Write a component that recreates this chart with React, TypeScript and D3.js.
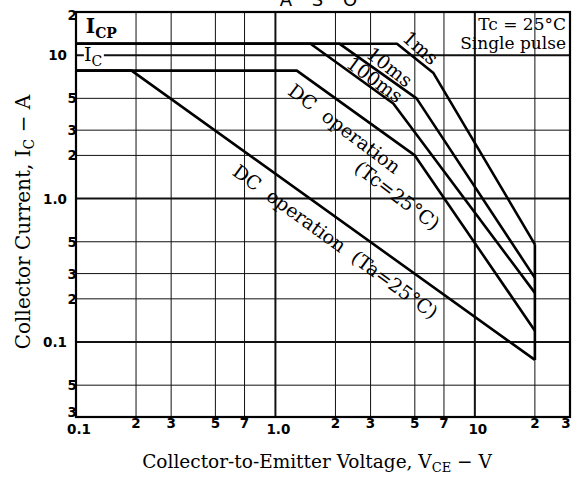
import React from 'react';
import * as d3 from 'd3';

// Safe operating area (A S O), log-log
const W = 573;
const H = 478;
const left = 76, right = 570, top = 12, bottom = 417;

const xTicks = [0.1, 0.2, 0.3, 0.5, 0.7, 1, 2, 3, 5, 7, 10, 20, 30];
const xTickLabels = ['0.1', '2', '3', '5', '7', '1.0', '2', '3', '5', '7', '10', '2', '3'];
const yTicks = [0.03, 0.05, 0.1, 0.2, 0.3, 0.5, 1, 2, 3, 5, 10, 20];
const yTickLabels = ['3', '5', '0.1', '2', '3', '5', '1.0', '2', '3', '5', '10', '2'];
const decades = [0.1, 1, 10];

// [V_CE (V), I_C (A)]
const pulse1ms: [number, number][] = [[0.1, 12], [4.07, 12], [6.2, 7.5], [20, 0.48]];
const pulse10ms: [number, number][] = [[0.1, 12], [2.1, 12], [5.1, 5.0], [20, 0.28]];
const pulse100ms: [number, number][] = [[0.1, 12], [1.5, 12], [3.9, 4.6], [20, 0.22]];
const dcTc: [number, number][] = [[0.1, 7.8], [1.28, 7.8], [5, 2], [20, 0.12]];
const dcTa: [number, number][] = [[0.1, 7.8], [0.19, 7.8], [20, 0.075]];
const vceoLimit: [number, number][] = [[20, 0.48], [20, 0.075]];

// curve labels: text, anchor [V, A], angle
const curveLabels: { text: string; at: [number, number]; angle: number }[] = [
  { text: '1ms', at: [4.27, 12.8], angle: 41 },
  { text: '10ms', at: [2.81, 9.84], angle: 38 },
  { text: '100ms', at: [2.23, 8.38], angle: 36 },
  { text: 'DC  operation', at: [1.14, 5.4], angle: 37 },
  { text: '(Tc=25°C)', at: [2.45, 1.57], angle: 37 },
  { text: 'DC  operation  (Ta=25°C)', at: [0.6, 1.48], angle: 36 },
];

const serif = '"DejaVu Serif", serif';
const sans = '"DejaVu Sans", sans-serif';

const x = d3.scaleLog().domain([0.1, 30]).range([left, right]);
const y = d3.scaleLog().domain([0.03, 20]).range([bottom, top]);
const line = d3.line<[number, number]>().x(d => x(d[0])).y(d => y(d[1]));

export default function App() {
  return (
    <svg width={W} height={H} style={{ position: 'absolute', left: 0, top: 0, background: '#fff' }}>
      <text x={322} y={6} fontFamily={sans} fontSize={18} letterSpacing={7} textAnchor="middle">A S O</text>

      {/* grid */}
      {xTicks.slice(1, -1).map(t => (
        <line key={'gx' + t} x1={x(t)} x2={x(t)} y1={top} y2={bottom}
          stroke="#111" strokeWidth={decades.includes(t) ? 2 : 1} />
      ))}
      {yTicks.slice(1, -1).map(t => (
        <line key={'gy' + t} x1={left} x2={right} y1={y(t)} y2={y(t)}
          stroke="#111" strokeWidth={decades.includes(t) ? 2 : 1} />
      ))}

      {/* curves */}
      {[pulse1ms, pulse10ms, pulse100ms, dcTc, dcTa, vceoLimit].map((d, i) => (
        <path key={'c' + i} d={line(d) || ''} fill="none" stroke="#000" strokeWidth={2.6} strokeLinejoin="round" />
      ))}

      <rect x={left} y={top} width={right - left} height={bottom - top} fill="none" stroke="#000" strokeWidth={2.2} />

      {/* I_CP, I_C */}
      <text x={x(0.112)} y={y(14.3)} fontFamily={serif} fontWeight="bold" fontSize={20}>
        I<tspan fontSize={14} dy={5}>CP</tspan>
      </text>
      <rect x={x(0.1095)} y={y(10) - 8} width={20} height={14} fill="#fff" />
      <text x={x(0.1097)} y={y(9.08)} fontFamily={serif} fontSize={19}>
        I<tspan fontSize={14} dy={5}>C</tspan>
      </text>

      {/* conditions */}
      <text x={right - 4} y={30} fontFamily={serif} fontSize={17} textAnchor="end" xmlSpace="preserve">Tc = 25°C</text>
      <text x={right - 4} y={48.5} fontFamily={serif} fontSize={17} textAnchor="end">Single pulse</text>

      {curveLabels.map(l => (
        <text key={l.text} fontFamily={serif} fontSize={19} xmlSpace="preserve"
          transform={`translate(${x(l.at[0])},${y(l.at[1])}) rotate(${l.angle})`}>
          {l.text}
        </text>
      ))}

      {/* tick labels */}
      {xTicks.map((t, i) => {
        const major = decades.includes(t);
        const last = i === xTicks.length - 1;
        return (
          <text key={'xl' + t} x={x(t) + (major ? 3 : 0) - (last ? 4 : 0)} y={major ? 434 : 428}
            fontFamily={sans} fontWeight="bold" fontSize={13.5} textAnchor="middle">
            {xTickLabels[i]}
          </text>
        );
      })}
      {yTicks.map((t, i) => {
        const major = decades.includes(t);
        let cy = y(t);
        if (i === 0) cy -= 5;
        if (i === yTicks.length - 1) cy += 3;
        return (
          <text key={'yl' + t} x={major ? left - 9 : left + 1} y={cy + 5}
            fontFamily={sans} fontWeight="bold" fontSize={13.5} textAnchor="end">
            {yTickLabels[i]}
          </text>
        );
      })}

      {/* axis titles */}
      <text x={317} y={468} fontFamily={serif} fontSize={18.5} textAnchor="middle">
        Collector-to-Emitter Voltage, V<tspan fontSize={13} dy={4}>CE</tspan><tspan dy={-4}> − V</tspan>
      </text>
      <text transform={`translate(30,222) rotate(-90)`} fontFamily={serif} fontSize={20} textAnchor="middle">
        Collector Current, I<tspan fontSize={14} dy={4}>C</tspan><tspan dy={-4}> − A</tspan>
      </text>
    </svg>
  );
}
